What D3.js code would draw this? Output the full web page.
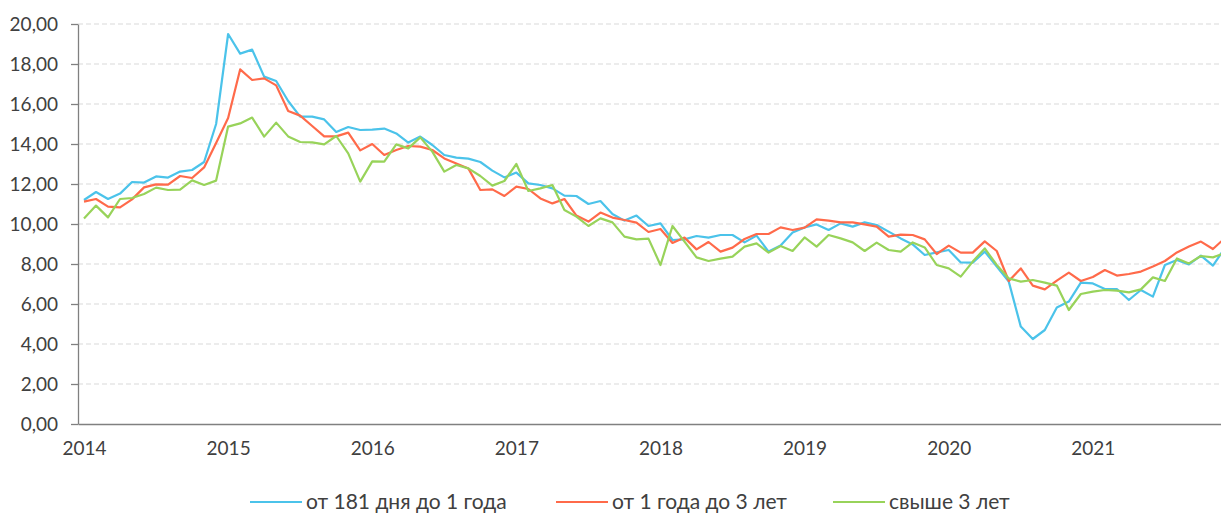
<!DOCTYPE html>
<html>
<head>
<meta charset="utf-8">
<title>Ставки</title>
<script src="https://cdn.jsdelivr.net/npm/d3@7"></script>
<style>
  body { margin: 0; background: #fff; }
  text { font-family: Lato, "Open Sans", sans-serif; fill: #404040; }
</style>
</head>
<body>
<div id="chart"></div>
<script>
// monthly values, Jan 2014 - Dec 2021
var years = ["2014", "2015", "2016", "2017", "2018", "2019", "2020", "2021"];
var yTicks = [0, 2, 4, 6, 8, 10, 12, 14, 16, 18, 20];
var yTickLabels = ["0,00", "2,00", "4,00", "6,00", "8,00", "10,00", "12,00", "14,00", "16,00", "18,00", "20,00"];
var seriesNames = ["от 181 дня до 1 года", "от 1 года до 3 лет", "свыше 3 лет"];

var shortTerm = [11.2, 11.6, 11.25, 11.52, 12.1, 12.07, 12.38, 12.32, 12.62, 12.7, 13.1, 15.0,
  19.5, 18.52, 18.72, 17.37, 17.15, 16.15, 15.37, 15.37, 15.23, 14.6, 14.85, 14.7,
  14.72, 14.77, 14.53, 14.07, 14.37, 13.95, 13.45, 13.32, 13.27, 13.1, 12.67, 12.33,
  12.57, 12.03, 11.95, 11.78, 11.42, 11.4, 11.0, 11.15, 10.5, 10.17, 10.42, 9.9,
  10.03, 9.2, 9.23, 9.4, 9.32, 9.45, 9.45, 9.08, 9.42, 8.62, 8.92, 9.57,
  9.83, 9.98, 9.7, 10.03, 9.87, 10.08, 9.95, 9.62, 9.28, 8.98, 8.45, 8.58,
  8.7, 8.08, 8.07, 8.62, 7.87, 7.12, 4.87, 4.25, 4.7, 5.83, 6.12, 7.07,
  7.03, 6.75, 6.75, 6.2, 6.7, 6.37, 7.95, 8.2, 7.98, 8.42, 7.92, 8.8];

var midTerm = [11.12, 11.25, 10.87, 10.83, 11.23, 11.83, 11.98, 11.97, 12.4, 12.3, 12.83, 14.05,
  15.3, 17.73, 17.2, 17.28, 16.93, 15.65, 15.42, 14.9, 14.38, 14.38, 14.57, 13.68,
  14.0, 13.45, 13.7, 13.9, 13.87, 13.7, 13.28, 13.03, 12.78, 11.7, 11.73, 11.4,
  11.87, 11.75, 11.28, 11.03, 11.25, 10.42, 10.12, 10.57, 10.32, 10.2, 10.07, 9.6,
  9.75, 9.05, 9.32, 8.73, 9.1, 8.62, 8.82, 9.25, 9.5, 9.5, 9.83, 9.7,
  9.82, 10.23, 10.17, 10.08, 10.08, 9.98, 9.87, 9.37, 9.47, 9.45, 9.23, 8.5,
  8.92, 8.57, 8.57, 9.13, 8.65, 7.15, 7.78, 6.92, 6.73, 7.17, 7.57, 7.15,
  7.35, 7.7, 7.42, 7.5, 7.62, 7.87, 8.15, 8.58, 8.87, 9.12, 8.75, 9.3];

var longTerm = [10.28, 10.92, 10.33, 11.25, 11.3, 11.5, 11.82, 11.7, 11.72, 12.18, 11.95, 12.17,
  14.87, 15.03, 15.32, 14.37, 15.07, 14.38, 14.1, 14.08, 13.98, 14.4, 13.53, 12.12,
  13.13, 13.12, 13.98, 13.78, 14.33, 13.62, 12.62, 12.95, 12.78, 12.4, 11.92, 12.15,
  13.0, 11.65, 11.78, 11.95, 10.7, 10.37, 9.9, 10.28, 10.08, 9.37, 9.23, 9.27,
  7.95, 9.9, 9.12, 8.33, 8.15, 8.27, 8.37, 8.87, 9.03, 8.57, 8.9, 8.65,
  9.33, 8.87, 9.45, 9.28, 9.08, 8.65, 9.07, 8.7, 8.62, 9.08, 8.83, 7.95,
  7.78, 7.37, 8.12, 8.78, 7.95, 7.28, 7.12, 7.2, 7.07, 6.92, 5.7, 6.5,
  6.62, 6.7, 6.67, 6.58, 6.73, 7.33, 7.15, 8.28, 8.03, 8.4, 8.33, 8.55];

var colors = ["#4bc3ea", "#ff6a4a", "#98d35a"];
var series = [shortTerm, midTerm, longTerm];

// dimensions (the plot runs a bit past the right edge, like the original)
var margin = {top: 24, left: 78},
    monthW = 12.01,
    width = 96 * monthW,
    height = 400;

var svg = d3.select("#chart").append("svg")
    .attr("width", 1221)
    .attr("height", 516);

var g = svg.append("g")
    .attr("transform", "translate(" + margin.left + "," + margin.top + ")");

var x = d3.scaleLinear().domain([-0.5, 95.5]).range([0, width]);
var y = d3.scaleLinear().domain([0, 20]).range([height, 0]);

// dashed grid
g.selectAll(".grid")
    .data(yTicks.filter(function(d) { return d > 0; }))
  .enter().append("line")
    .attr("class", "grid")
    .attr("x1", 0).attr("x2", width)
    .attr("y1", function(d) { return y(d); })
    .attr("y2", function(d) { return y(d); })
    .attr("stroke", "#d9d9d9")
    .attr("stroke-width", 1)
    .attr("stroke-dasharray", "5,3");

// y axis
var yAxis = g.append("g")
    .call(d3.axisLeft(y)
      .tickValues(yTicks)
      .tickSize(7)
      .tickSizeOuter(0)
      .tickPadding(13)
      .tickFormat(function(d, i) { return yTickLabels[i]; }));
yAxis.selectAll("line, path").attr("stroke", "#808080").attr("stroke-width", 1.3);
yAxis.selectAll("text").style("font-size", "19px").attr("fill", "#404040")
    .style("font-family", "Lato, sans-serif");

// x axis
var xAxis = g.append("g")
    .attr("transform", "translate(0," + height + ")")
    .call(d3.axisBottom(x)
      .tickValues(years.map(function(d, i) { return i * 12; }))
      .tickSize(0)
      .tickSizeOuter(0)
      .tickPadding(18)
      .tickFormat(function(d, i) { return years[i]; }));
xAxis.select(".domain").attr("stroke", "#808080").attr("stroke-width", 1.3);
xAxis.selectAll("text").style("font-size", "19px").attr("fill", "#404040")
    .style("font-family", "Lato, sans-serif");

// lines
var line = d3.line()
    .x(function(d, i) { return x(i); })
    .y(function(d) { return y(d); });

series.forEach(function(s, k) {
  g.append("path")
      .datum(s)
      .attr("fill", "none")
      .attr("stroke", colors[k])
      .attr("stroke-width", 2.2)
      .attr("stroke-linejoin", "round")
      .attr("d", line);
});

// legend
var legendX = [250, 556, 833];
var legend = svg.selectAll(".legend")
    .data(seriesNames)
  .enter().append("g")
    .attr("class", "legend")
    .attr("transform", function(d, i) { return "translate(" + legendX[i] + ",502)"; });
legend.append("line")
    .attr("x1", 0).attr("x2", 52)
    .attr("stroke", function(d, i) { return colors[i]; })
    .attr("stroke-width", 2.2);
legend.append("text")
    .attr("x", 56)
    .attr("dy", "0.35em")
    .style("font-size", "21px")
    .text(function(d) { return d; });
</script>
</body>
</html>
